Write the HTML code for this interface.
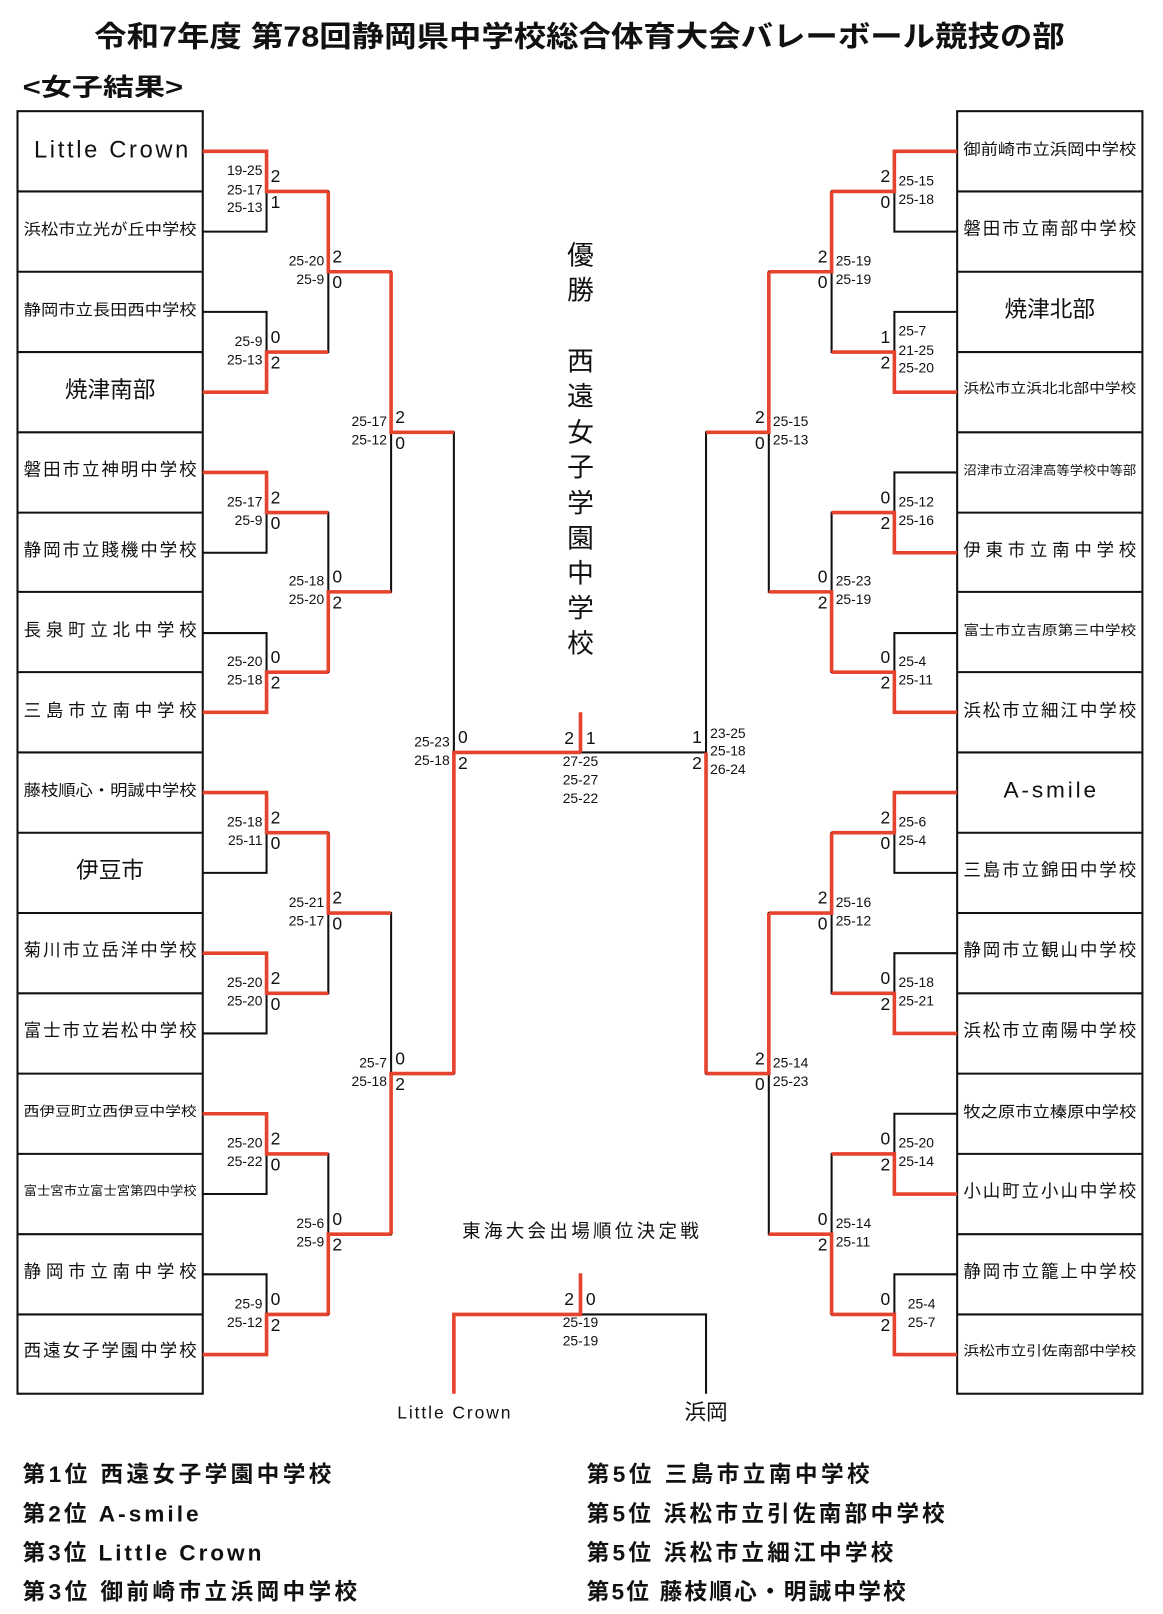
<!DOCTYPE html>
<html><head><meta charset="utf-8"><style>
html,body{margin:0;padding:0;background:#fff;}
svg{display:block;}
text{font-family:"Liberation Sans","Noto Sans CJK JP",sans-serif;fill:#111;}
.s{font-size:13px;}
.n{font-size:17px;}
.t{font-size:16px;}
.b{font-size:22px;}
.rk{font-size:22px;font-weight:bold;}
</style></head><body>
<svg width="1163" height="1614" viewBox="0 0 1130 1568" preserveAspectRatio="none" xmlns="http://www.w3.org/2000/svg">
<rect width="1130" height="1568" fill="#fff"/>
<text x="563" y="45" text-anchor="middle" font-size="28" font-weight="bold" textLength="943" lengthAdjust="spacingAndGlyphs">令和7年度 第78回静岡県中学校総合体育大会バレーボール競技の部</text>
<text x="22" y="93" font-size="24" font-weight="bold" textLength="156" lengthAdjust="spacingAndGlyphs">&lt;女子結果&gt;</text>

<g fill="none" stroke="#111" stroke-width="2">
<rect x="17" y="108" width="180" height="1246"/>
<rect x="930" y="108" width="180" height="1246"/>
<path d="M17 186H197M17 264H197M17 342H197M17 420H197M17 498H197M17 575H197M17 653H197M17 731H197M17 809H197M17 887H197M17 965H197M17 1043H197M17 1121H197M17 1199H197M17 1277H197"/>
<path d="M930 186H1110M930 264H1110M930 342H1110M930 420H1110M930 498H1110M930 575H1110M930 653H1110M930 731H1110M930 809H1110M930 887H1110M930 965H1110M930 1043H1110M930 1121H1110M930 1199H1110M930 1277H1110"/>
<path d="M197 147H259V225H197M197 303H259V381H197M197 459H259V537H197M197 615H259V692H197M197 770H259V848H197M197 926H259V1004H197M197 1082H259V1160H197M197 1238H259V1316H197"/>
<path d="M259 186H319V342H259M259 498H319V653H259M259 809H319V965H259M259 1121H319V1277H259"/>
<path d="M319 264H380V575H319M319 887H380V1199H319"/>
<path d="M380 420H441V1043H380"/>
<path d="M441 731H686"/>
<path d="M930 147H869V225H930M930 303H869V381H930M930 459H869V537H930M930 615H869V692H930M930 770H869V848H930M930 926H869V1004H930M930 1082H869V1160H930M930 1238H869V1316H930"/>
<path d="M869 186H808V342H869M869 498H808V653H869M869 809H808V965H869M869 1121H808V1277H869"/>
<path d="M808 264H747V575H808M808 887H747V1199H808"/>
<path d="M747 420H686V1043H747"/>
<path d="M564 1277H686V1354"/>
</g>
<g fill="none" stroke="#e5432d" stroke-width="3.5">
<path d="M197 147H259V186H319M197 381H259V342H319M197 459H259V498H319M197 692H259V653H319M197 770H259V809H319M197 926H259V965H319M197 1082H259V1121H319M197 1316H259V1277H319"/>
<path d="M319 186V264H380M319 653V575H380M319 809V887H380M319 1277V1199H380"/>
<path d="M380 264V420H441M380 1199V1043H441"/>
<path d="M441 1043V731H564M564 692V731"/>
<path d="M930 147H869V186H808M930 381H869V342H808M930 537H869V498H808M930 692H869V653H808M930 770H869V809H808M930 1004H869V965H808M930 1160H869V1121H808M930 1316H869V1277H808"/>
<path d="M808 186V264H747M808 653V575H747M808 809V887H747M808 1277V1199H747"/>
<path d="M747 264V420H686M747 887V1043H686"/>
<path d="M686 1043V731"/>
<path d="M441 1354V1277H564V1237"/>
</g>

<g text-anchor="middle">
<text x="108" y="153" font-size="23" textLength="150" lengthAdjust="spacing">Little Crown</text>
<text x="107" y="228" font-size="15" textLength="168" lengthAdjust="spacingAndGlyphs">浜松市立光が丘中学校</text>
<text x="107" y="306" font-size="15" textLength="168" lengthAdjust="spacingAndGlyphs">静岡市立長田西中学校</text>
<text x="107" y="386" class="b">焼津南部</text>
<text x="107" y="462" font-size="17" textLength="168" lengthAdjust="spacing">磐田市立神明中学校</text>
<text x="107" y="540" font-size="17" textLength="168" lengthAdjust="spacing">静岡市立賤機中学校</text>
<text x="107" y="618" font-size="17" textLength="168" lengthAdjust="spacing">長泉町立北中学校</text>
<text x="107" y="696" font-size="17" textLength="168" lengthAdjust="spacing">三島市立南中学校</text>
<text x="107" y="773" font-size="15" textLength="168" lengthAdjust="spacingAndGlyphs">藤枝順心・明誠中学校</text>
<text x="107" y="853" class="b">伊豆市</text>
<text x="107" y="929" font-size="17" textLength="168" lengthAdjust="spacing">菊川市立岳洋中学校</text>
<text x="107" y="1007" font-size="17" textLength="168" lengthAdjust="spacing">富士市立岩松中学校</text>
<text x="107" y="1084" font-size="13" textLength="168" lengthAdjust="spacingAndGlyphs">西伊豆町立西伊豆中学校</text>
<text x="107" y="1161" font-size="12" textLength="168" lengthAdjust="spacingAndGlyphs">富士宮市立富士宮第四中学校</text>
<text x="107" y="1241" font-size="17" textLength="168" lengthAdjust="spacing">静岡市立南中学校</text>
<text x="107" y="1318" font-size="17" textLength="168" lengthAdjust="spacing">西遠女子学園中学校</text>
</g>
<g text-anchor="middle">
<text x="1020" y="150" font-size="15" textLength="168" lengthAdjust="spacingAndGlyphs">御前崎市立浜岡中学校</text>
<text x="1020" y="228" font-size="17" textLength="168" lengthAdjust="spacing">磐田市立南部中学校</text>
<text x="1020" y="308" class="b">焼津北部</text>
<text x="1020" y="382" font-size="13" textLength="168" lengthAdjust="spacingAndGlyphs">浜松市立浜北北部中学校</text>
<text x="1020" y="461" font-size="12" textLength="168" lengthAdjust="spacingAndGlyphs">沼津市立沼津高等学校中等部</text>
<text x="1020" y="540" font-size="17" textLength="168" lengthAdjust="spacing">伊東市立南中学校</text>
<text x="1020" y="617" font-size="13" textLength="168" lengthAdjust="spacingAndGlyphs">富士市立吉原第三中学校</text>
<text x="1020" y="696" font-size="17" textLength="168" lengthAdjust="spacing">浜松市立細江中学校</text>
<text x="1020" y="775" font-size="22" textLength="90" lengthAdjust="spacing">A-smile</text>
<text x="1020" y="851" font-size="17" textLength="168" lengthAdjust="spacing">三島市立錦田中学校</text>
<text x="1020" y="929" font-size="17" textLength="168" lengthAdjust="spacing">静岡市立観山中学校</text>
<text x="1020" y="1007" font-size="17" textLength="168" lengthAdjust="spacing">浜松市立南陽中学校</text>
<text x="1020" y="1085" font-size="15" textLength="168" lengthAdjust="spacingAndGlyphs">牧之原市立榛原中学校</text>
<text x="1020" y="1163" font-size="17" textLength="168" lengthAdjust="spacing">小山町立小山中学校</text>
<text x="1020" y="1241" font-size="17" textLength="168" lengthAdjust="spacing">静岡市立籠上中学校</text>
<text x="1020" y="1317" font-size="13" textLength="168" lengthAdjust="spacingAndGlyphs">浜松市立引佐南部中学校</text>
</g>

<g text-anchor="end" font-size="13.5">
<text x="255" y="170">19-25</text><text x="255" y="189">25-17</text><text x="255" y="206">25-13</text>
<text x="255" y="336">25-9</text><text x="255" y="354">25-13</text>
<text x="255" y="492">25-17</text><text x="255" y="510">25-9</text>
<text x="255" y="647">25-20</text><text x="255" y="665">25-18</text>
<text x="255" y="803">25-18</text><text x="255" y="821">25-11</text>
<text x="255" y="959">25-20</text><text x="255" y="977">25-20</text>
<text x="255" y="1115">25-20</text><text x="255" y="1133">25-22</text>
<text x="255" y="1271">25-9</text><text x="255" y="1289">25-12</text>
<text x="315" y="258">25-20</text><text x="315" y="276">25-9</text>
<text x="315" y="569">25-18</text><text x="315" y="587">25-20</text>
<text x="315" y="881">25-21</text><text x="315" y="899">25-17</text>
<text x="315" y="1193">25-6</text><text x="315" y="1211">25-9</text>
<text x="376" y="414">25-17</text><text x="376" y="432">25-12</text>
<text x="376" y="1037">25-7</text><text x="376" y="1055">25-18</text>
<text x="437" y="725">25-23</text><text x="437" y="743">25-18</text>
</g>
<g font-size="17">
<text x="263" y="177">2</text><text x="263" y="202">1</text>
<text x="263" y="333">0</text><text x="263" y="358">2</text>
<text x="263" y="489">2</text><text x="263" y="514">0</text>
<text x="263" y="644">0</text><text x="263" y="669">2</text>
<text x="263" y="800">2</text><text x="263" y="825">0</text>
<text x="263" y="956">2</text><text x="263" y="981">0</text>
<text x="263" y="1112">2</text><text x="263" y="1137">0</text>
<text x="263" y="1268">0</text><text x="263" y="1293">2</text>
<text x="323" y="255">2</text><text x="323" y="280">0</text>
<text x="323" y="566">0</text><text x="323" y="591">2</text>
<text x="323" y="878">2</text><text x="323" y="903">0</text>
<text x="323" y="1190">0</text><text x="323" y="1215">2</text>
<text x="384" y="411">2</text><text x="384" y="436">0</text>
<text x="384" y="1034">0</text><text x="384" y="1059">2</text>
<text x="445" y="722">0</text><text x="445" y="747">2</text>
</g>

<g font-size="13.5">
<text x="873" y="180">25-15</text><text x="873" y="198">25-18</text>
<text x="873" y="326">25-7</text><text x="873" y="345">21-25</text><text x="873" y="362">25-20</text>
<text x="873" y="492">25-12</text><text x="873" y="510">25-16</text>
<text x="873" y="647">25-4</text><text x="873" y="665">25-11</text>
<text x="873" y="803">25-6</text><text x="873" y="821">25-4</text>
<text x="873" y="959">25-18</text><text x="873" y="977">25-21</text>
<text x="873" y="1115">25-20</text><text x="873" y="1133">25-14</text>
<text x="882" y="1271">25-4</text><text x="882" y="1289">25-7</text>
<text x="812" y="258">25-19</text><text x="812" y="276">25-19</text>
<text x="812" y="569">25-23</text><text x="812" y="587">25-19</text>
<text x="812" y="881">25-16</text><text x="812" y="899">25-12</text>
<text x="812" y="1193">25-14</text><text x="812" y="1211">25-11</text>
<text x="751" y="414">25-15</text><text x="751" y="432">25-13</text>
<text x="751" y="1037">25-14</text><text x="751" y="1055">25-23</text>
<text x="690" y="717">23-25</text><text x="690" y="734">25-18</text><text x="690" y="752">26-24</text>
</g>
<g font-size="17" text-anchor="end">
<text x="865" y="177">2</text><text x="865" y="202">0</text>
<text x="865" y="333">1</text><text x="865" y="358">2</text>
<text x="865" y="489">0</text><text x="865" y="514">2</text>
<text x="865" y="644">0</text><text x="865" y="669">2</text>
<text x="865" y="800">2</text><text x="865" y="825">0</text>
<text x="865" y="956">0</text><text x="865" y="981">2</text>
<text x="865" y="1112">0</text><text x="865" y="1137">2</text>
<text x="865" y="1268">0</text><text x="865" y="1293">2</text>
<text x="804" y="255">2</text><text x="804" y="280">0</text>
<text x="804" y="566">0</text><text x="804" y="591">2</text>
<text x="804" y="878">2</text><text x="804" y="903">0</text>
<text x="804" y="1190">0</text><text x="804" y="1215">2</text>
<text x="743" y="411">2</text><text x="743" y="436">0</text>
<text x="743" y="1034">2</text><text x="743" y="1059">0</text>
<text x="682" y="722">1</text><text x="682" y="747">2</text>
</g>

<g text-anchor="middle" font-size="26">
<text x="564" y="257">優</text><text x="564" y="291">勝</text>
<text x="564" y="360">西</text><text x="564" y="394">遠</text><text x="564" y="429">女</text>
<text x="564" y="463">子</text><text x="564" y="498">学</text><text x="564" y="532">園</text>
<text x="564" y="566">中</text><text x="564" y="600">学</text><text x="564" y="634">校</text>
</g>
<g text-anchor="middle">
<text x="553" y="723" font-size="17">2</text><text x="574" y="723" font-size="17">1</text>
<text x="564" y="744" font-size="13.5">27-25</text><text x="564" y="762" font-size="13.5">25-27</text><text x="564" y="780" font-size="13.5">25-22</text>
<text x="564" y="1202" font-size="18" textLength="230" lengthAdjust="spacing">東海大会出場順位決定戦</text>
<text x="553" y="1268" font-size="17">2</text><text x="574" y="1268" font-size="17">0</text>
<text x="564" y="1289" font-size="13.5">25-19</text><text x="564" y="1307" font-size="13.5">25-19</text>
<text x="441" y="1378" font-size="17" textLength="110" lengthAdjust="spacing">Little Crown</text>
<text x="686" y="1379" font-size="21">浜岡</text>
</g>

<g class="rk">
<text x="22" y="1440" textLength="300" lengthAdjust="spacing">第1位 西遠女子学園中学校</text>
<text x="22" y="1478" textLength="171" lengthAdjust="spacing">第2位 A-smile</text>
<text x="22" y="1516" textLength="232" lengthAdjust="spacing">第3位 Little Crown</text>
<text x="22" y="1554" textLength="325" lengthAdjust="spacing">第3位 御前崎市立浜岡中学校</text>
<text x="570" y="1440" textLength="275" lengthAdjust="spacing">第5位 三島市立南中学校</text>
<text x="570" y="1478" textLength="348" lengthAdjust="spacing">第5位 浜松市立引佐南部中学校</text>
<text x="570" y="1516" textLength="298" lengthAdjust="spacing">第5位 浜松市立細江中学校</text>
<text x="570" y="1554" textLength="310" lengthAdjust="spacing">第5位 藤枝順心・明誠中学校</text>
</g>
</svg>
</body></html>
